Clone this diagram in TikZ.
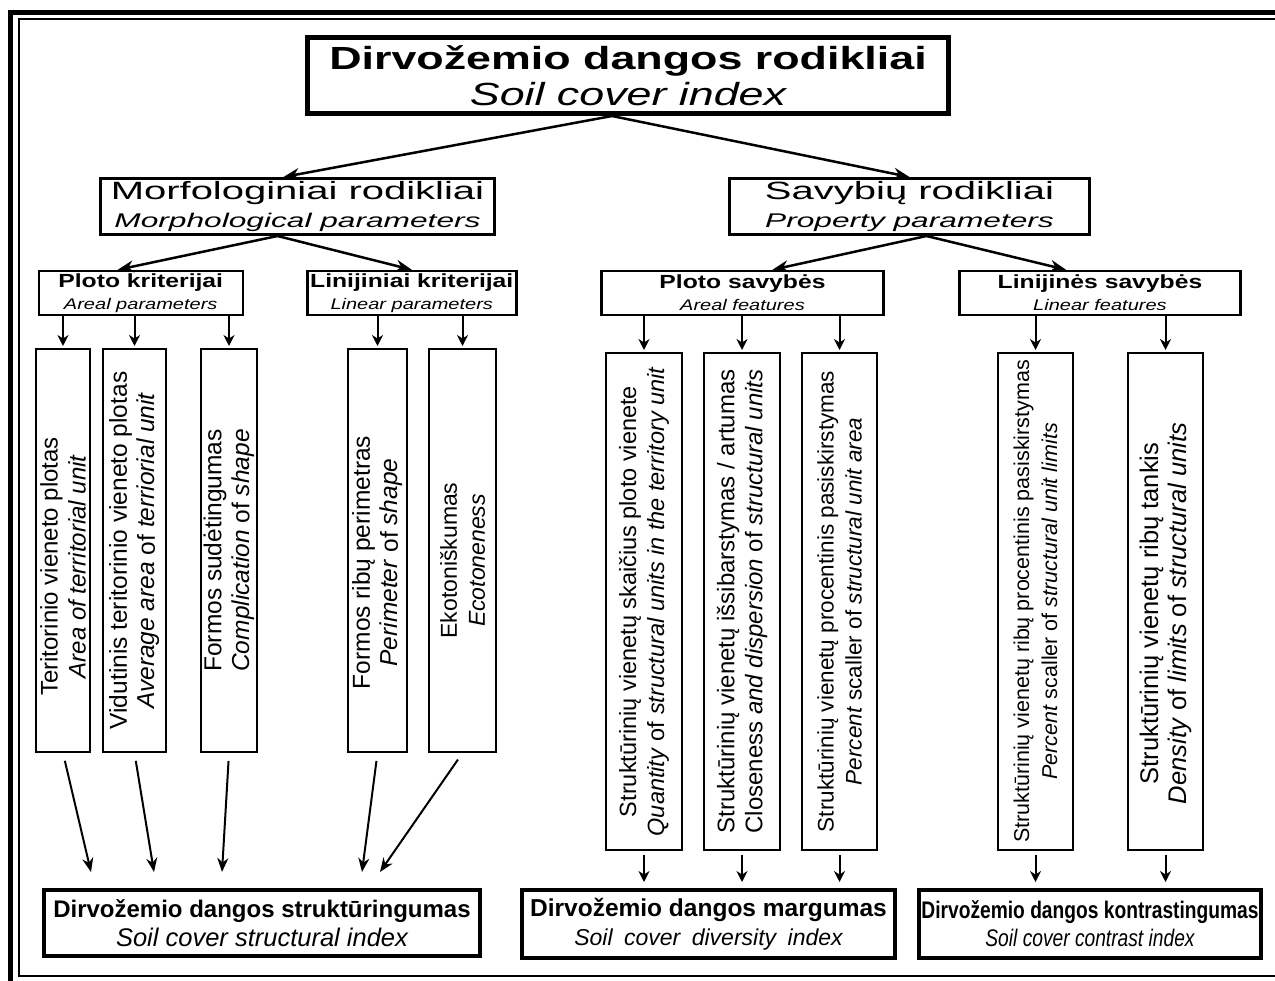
\documentclass[tikz,border=0pt]{standalone}
\usepackage{fontspec}
\setmainfont{Liberation Sans}
\newfontfamily\titlefamily[FakeStretch=1.4]{Liberation Sans}
\newfontfamily\groupfamily[FakeStretch=1.6]{Liberation Sans}
\newfontfamily\critfamily[FakeStretch=1.3]{Liberation Sans}
\newfontfamily\narrowfamily[FakeStretch=0.8]{Liberation Sans}
\usepackage{calc}
\usetikzlibrary{arrows.meta}
\setlength{\lineskiplimit}{-10pt}

\tikzset{
  topbox/.style={draw, line width=5pt, minimum width=641pt, minimum height=76pt, align=center, inner sep=0pt, font=\titlefamily\fontsize{32}{36}\selectfont},
  groupbox/.style={draw, line width=3pt, minimum height=56pt, align=center, inner sep=0pt, font=\groupfamily\fontsize{25}{28}\selectfont},
  critbox/.style={draw, line width=2.5pt, minimum height=44pt, align=center, inner sep=0pt, font=\critfamily\fontsize{19}{22}\selectfont},
  itembox/.style={draw, line width=2pt, rotate=90, align=center, inner sep=0pt, font=\fontsize{#1}{28}\selectfont},
  itembox/.default=24,
  resultbox/.style={draw, line width=4pt, align=center, inner sep=0pt, font=\fontsize{24}{29}\selectfont},
  bigarrow/.style={-{Stealth[length=16pt,width=12pt]}, line width=2.5pt},
  longarrow/.style={-{Stealth[length=14pt,width=11pt]}, line width=2pt},
  smallarrow/.style={-{Stealth[length=11pt,width=11pt]}, line width=2pt}
}

\begin{document}
\begin{tikzpicture}[x=1pt,y=-1pt]
  \useasboundingbox (0,0) rectangle (1275,981);
  \clip (0,0) rectangle (1275,981);
  % double frame
  \draw[line width=5pt] (10.5,12.5) rectangle (1300,995);
  \draw[line width=2.5pt] (19,19) rectangle (1290,976);

  \node[topbox] (soil) at (628,75.5) {{\bfseries Dirvožemio dangos rodikliai}\\
    \fontsize{32}{32}\selectfont\itshape Soil cover index};

  \node[groupbox, minimum width=394pt] (morph) at (297.5,206.5) {Morfologiniai rodikliai\\
    \fontsize{19.8}{25}\selectfont\itshape Morphological parameters};
  \node[groupbox, minimum width=360pt] (prop) at (909.5,206.5) {Savybių rodikliai\\
    \fontsize{19.8}{25}\selectfont\itshape Property parameters};

  \node[critbox, minimum width=204pt] (areal) at (140.75,293) {{\bfseries Ploto kriterijai}\\
    \fontsize{15.4}{16}\selectfont\itshape Areal parameters};
  \node[critbox, minimum width=209pt] (linear) at (411.75,293) {{\bfseries Linijiniai kriterijai}\\
    \fontsize{15.4}{16}\selectfont\itshape Linear parameters};
  \node[critbox, minimum width=282pt] (arealf) at (742.5,293) {{\bfseries Ploto savybės}\\
    \fontsize{15.4}{16}\selectfont\itshape Areal features};
  \node[critbox, minimum width=281pt] (linearf) at (1100,293) {{\bfseries Linijinės savybės}\\
    \fontsize{15.4}{16}\selectfont\itshape Linear features};

  % morphological items
  \node[itembox, minimum width=403pt, minimum height=54pt] (area) at (63,550.5)
    {Teritorinio vieneto plotas\hspace*{32pt}\\ \textit{Area of territorial unit}\hspace*{32pt}};
  \node[itembox=24.5, minimum width=403pt, minimum height=63pt] (avgarea) at (134.5,550.5)
    {Vidutinis teritorinio vieneto plotas\\ \textit{Average area} of \textit{terriorial unit}};
  \node[itembox=24.5, minimum width=403pt, minimum height=56pt] (shape) at (229,550.5)
    {Formos sudėtingumas\\ \textit{Complication} of \textit{shape}};
  \node[itembox=24.5, minimum width=403pt, minimum height=59pt] (perim) at (377.5,550.5)
    {Formos ribų perimetras\hspace*{24pt}\\ \textit{Perimeter} of \textit{shape}\hspace*{24pt}};
  \node[itembox=23, minimum width=403pt, minimum height=67pt] (ecoton) at (462.5,550.5)
    {Ekotoniškumas\hspace*{20pt}\\ \textit{Ecotoneness}\hspace*{20pt}};

  % property items
  \node[itembox=23.5, minimum width=497pt, minimum height=76pt] (quant) at (644,601.5)
    {Struktūrinių vienetų skaičius ploto vienete\\ \textit{Quantity} of \textit{structural units in the territory unit}};
  \node[itembox, minimum width=497pt, minimum height=76pt] (disp) at (742,601.5)
    {Struktūrinių vienetų išsibarstymas / artumas\\
    \makebox[\widthof{Struktūrinių vienetų išsibarstymas / artumas}][s]{Closeness \textit{and dispersion} of \textit{structural units}}};
  \node[itembox=22.5, minimum width=497pt, minimum height=75pt] (pscal) at (839.5,601.5)
    {Struktūrinių vienetų procentinis pasiskirstymas\\ \textit{Percent} scaller of \textit{structural unit area}};
  \node[itembox=21.5, minimum width=497pt, minimum height=75pt] (plimit) at (1035.5,601.5)
    {Struktūrinių vienetų ribų procentinis pasiskirstymas\\ \textit{Percent} scaller of \textit{structural unit limits}};
  \node[itembox=25.5, minimum width=497pt, minimum height=75pt] (dens) at (1165.5,601.5)
    {Struktūrinių vienetų ribų tankis\hspace*{24pt}\\ \textit{Density} of \textit{limits} of \textit{structural units}\hspace*{24pt}};

  % results
  \node[resultbox, minimum width=436pt, minimum height=66pt] (struct) at (262,923)
    {{\bfseries Dirvožemio dangos struktūringumas}\\ \fontsize{25.5}{29}\selectfont\itshape Soil cover structural index};
  \node[resultbox, minimum width=373pt, minimum height=68pt] (divers) at (708.5,924)
    {{\fontsize{24.5}{29}\selectfont\bfseries Dirvožemio dangos margumas}\\
    \fontsize{23}{28}\selectfont\itshape Soil\enspace cover\enspace diversity\enspace index};
  \node[resultbox, minimum width=342pt, minimum height=68pt, font=\narrowfamily\fontsize{24}{28}\selectfont] (contrast) at (1090,924)
    {{\bfseries Dirvožemio dangos kontrastingumas}\\ \itshape Soil cover contrast index};

  \coordinate (in1) at (91,872);
  \coordinate (in2) at (154,872);
  \coordinate (in3) at (222,872);
  \coordinate (in4) at (362,872);
  \coordinate (in5) at (380,872);

  \draw[bigarrow] ([xshift=-16pt]soil.south) -- ([xshift=-14pt]morph.north);
  \draw[bigarrow] ([xshift=-16pt]soil.south) -- (prop.north);
  \draw[bigarrow] ([xshift=-20pt]morph.south) -- ([xshift=-23pt]areal.north);
  \draw[bigarrow] ([xshift=-20pt]morph.south) -- (linear.north);
  \draw[bigarrow] ([xshift=17pt]prop.south) -- ([xshift=30pt]arealf.north);
  \draw[bigarrow] ([xshift=17pt]prop.south) -- ([xshift=-34pt]linearf.north);

  \foreach \item/\from in {area/areal, avgarea/areal, shape/areal, perim/linear, ecoton/linear,
      quant/arealf, disp/arealf, pscal/arealf, plimit/linearf, dens/linearf}
    \draw[smallarrow, shorten >=2pt] (\from.south -| \item.east) -- (\item.east);

  \draw[longarrow, shorten <=8pt] (area.west) -- (in1);
  \draw[longarrow, shorten <=8pt] (avgarea.west) -- (in2);
  \draw[longarrow, shorten <=8pt] (shape.west) -- (in3);
  \draw[longarrow, shorten <=8pt] (perim.west) -- (in4);
  \draw[longarrow, shorten <=8pt] (ecoton.west) -- (in5);

  \foreach \item/\to in {quant/divers, disp/divers, pscal/divers, plimit/contrast, dens/contrast}
    \draw[smallarrow, shorten <=4pt, shorten >=6pt] (\item.west) -- (\item.west |- \to.north);
\end{tikzpicture}
\end{document}
